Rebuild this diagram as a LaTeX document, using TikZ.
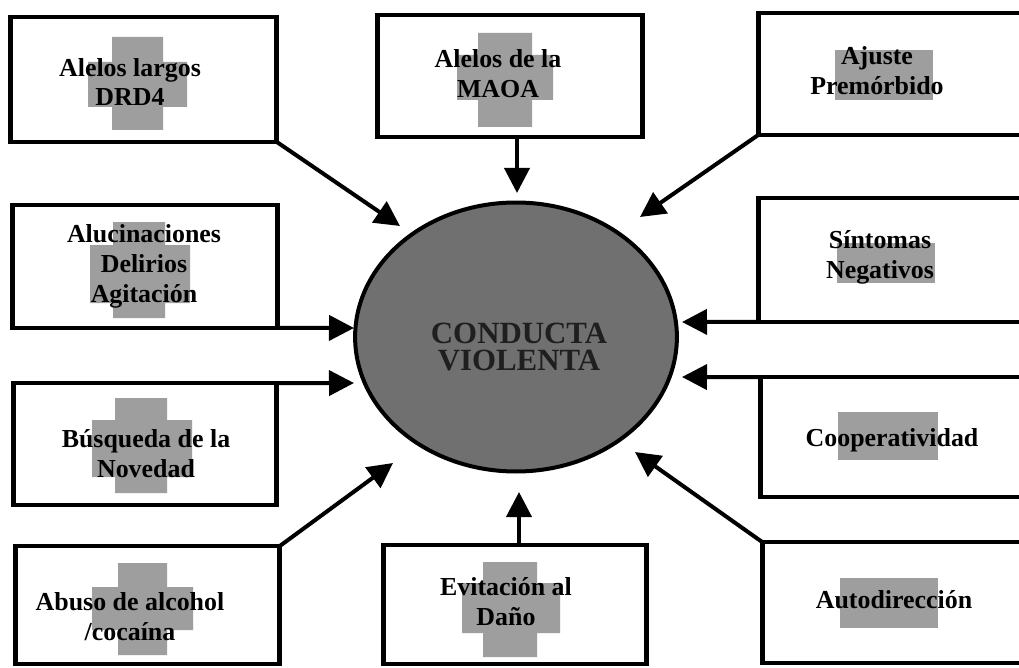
\documentclass[tikz,border=0pt]{standalone}
\usepackage{fontspec}
\setmainfont{Liberation Serif}
\usetikzlibrary{shapes.geometric,arrows.meta}
\tikzset{
  box/.style={draw, line width=4.5bp, rectangle, inner sep=0pt, outer sep=0pt},
  lbl/.style={font=\bfseries\fontsize{26}{30}\selectfont, align=center, inner sep=0pt},
  patch/.style={fill=black!38},
  arr/.style={line width=4bp, -{Triangle[length=25bp,width=25bp]}},
  core/.style={ellipse, draw, line width=4bp, fill=black!56, inner sep=0pt, outer sep=0pt}
}
\begin{document}
\begin{tikzpicture}[x=1bp,y=-1bp]
\useasboundingbox (0,0) rectangle (1019,668);
\clip (0,0) rectangle (1019,668);
\fill[white] (0,0) rectangle (1019,668);
% grey patches behind texts
\fill[patch] (112,37) rectangle (163,130) (88,62) rectangle (187,107);
\fill[patch] (478,33) rectangle (532,127) (457,55) rectangle (553,100);
\fill[patch] (835,50) rectangle (933,100);
\fill[patch] (113,222) rectangle (165,318) (90,245) rectangle (190,303);
\fill[patch] (837,243) rectangle (935,283);
\fill[patch] (115,398) rectangle (167,493) (92,420) rectangle (192,477);
\fill[patch] (838,412) rectangle (938,460);
\fill[patch] (118,563) rectangle (167,655) (92,587) rectangle (193,630);
\fill[patch] (483,562) rectangle (537,657) (462,583) rectangle (560,633);
\fill[patch] (840,578) rectangle (938,628);
% boxes
\node[box, minimum width=267, minimum height=125] (b1) at (143.5,79.5) {};
\node[box, minimum width=266, minimum height=122] (b2) at (510,76) {};
\node[box, minimum width=272, minimum height=122] (b3) at (894,74) {};
\node[box, minimum width=266, minimum height=123] (b4) at (145,266.5) {};
\node[box, minimum width=272, minimum height=124] (b5) at (894,260) {};
\node[box, minimum width=264, minimum height=122] (b6) at (145,444) {};
\node[box, minimum width=270, minimum height=120] (b7) at (895,437) {};
\node[box, minimum width=265, minimum height=118] (b8) at (147.5,605) {};
\node[box, minimum width=264, minimum height=119] (b9) at (515,604.5) {};
\node[box, minimum width=268, minimum height=121] (b10) at (896,602.5) {};
% labels
\node[lbl] (l1) at (130,82) {Alelos largos\\DRD4};
\node[lbl] (l2) at (498,74) {Alelos de la\\MAOA};
\node[lbl] (l3) at (877,71) {Ajuste\\Premórbido};
\node[lbl] (l4) at (144,266) {Alucinaciones\\Delirios\\Agitación};
\node[lbl] (l5) at (880,257) {Síntomas\\Negativos};
\node[lbl] (l6) at (146,454) {Búsqueda de la\\Novedad};
\node[lbl] (l7) at (892,440) {Cooperatividad};
\node[lbl] (l8) at (130,617) {Abuso de alcohol\\/cocaína};
\node[lbl] (l9) at (506,602) {Evitación al\\Daño};
\node[lbl] (l10) at (894,600) {Autodirección};
% central ellipse
\node[core, minimum width=323, minimum height=270] (ce) at (516,337) {};
\node[font=\bfseries\fontsize{31}{28}\selectfont, align=center, text=black!88, inner sep=0pt] (lc) at (519,347) {CONDUCTA\\VIOLENTA};
% arrow tips
\coordinate (t1) at (400,226);
\coordinate (t2) at (517,193);
\coordinate (t3) at (640,217);
\coordinate (t4) at (354,328);
\coordinate (t5) at (682,322);
\coordinate (t6) at (354,383);
\coordinate (t7) at (682,377);
\coordinate (t8) at (393,463);
\coordinate (t9) at (519,492);
\coordinate (t10) at (635,452);
\coordinate (s2) at (517,137);
\coordinate (s9) at (519,545);
% connectors
\draw[arr] (b1.south east) -- (t1);
\draw[arr] (s2) -- (t2);
\draw[arr] (b3.south west) -- (t3);
\draw[arr] (b4.south east) -- (t4);
\draw[arr] (b5.south west) -- (t5);
\draw[arr] (b6.north east) -- (t6);
\draw[arr] (b7.north west) -- (t7);
\draw[arr] (b8.north east) -- (t8);
\draw[arr] (s9) -- (t9);
\draw[arr] (b10.north west) -- (t10);
\end{tikzpicture}
\end{document}
